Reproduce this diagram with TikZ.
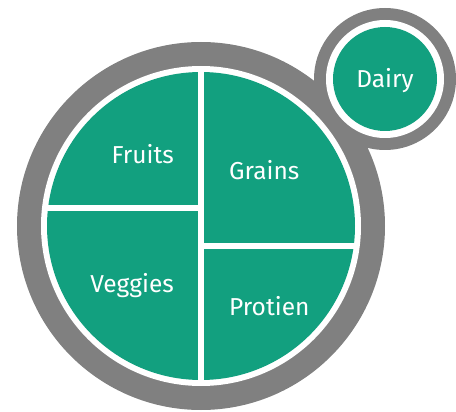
\documentclass[tikz,border=0pt]{standalone}
\usepackage{fontspec}
\setmainfont{Fira Sans}
\definecolor{plategreen}{HTML}{12A07F}
\definecolor{rimgray}{HTML}{808080}
\tikzset{
  disc/.style={circle, inner sep=0pt, fill=#1},
  divider/.style={draw=white, line width=6pt},
  foodtext/.style={text=white, inner sep=0pt, font=\fontsize{24.5}{29}\selectfont}
}

\begin{document}
\begin{tikzpicture}[x=1pt,y=-1pt]
        \useasboundingbox (0,0) rectangle (456,412);

        % Plate
        \node[disc=rimgray, minimum size=368pt] (plateRim) at (201,226) {};
        \node[disc=white, minimum size=320pt] (plateEdge) at (201,226) {};
        \node[disc=plategreen, minimum size=308pt] (plate) at (201,226) {};

        % Dividers
        \coordinate (topEnd) at (201,69);
        \coordinate (bottomEnd) at (201,383);
        \coordinate (leftEnd) at (45,208);
        \coordinate (leftMid) at (201,208);
        \coordinate (rightMid) at (201,246);
        \coordinate (rightEnd) at (357,246);
        \draw[divider] (topEnd) -- (bottomEnd);
        \draw[divider] (leftEnd) -- (leftMid);
        \draw[divider] (rightMid) -- (rightEnd);

        % Cup
        \node[disc=rimgray, minimum size=142pt] (cupRim) at (385,79) {};
        \node[disc=white, minimum size=118pt] (cupEdge) at (385,79) {};
        \node[disc=plategreen, minimum size=104pt] (cup) at (385,79) {};

        % Food groups
        \node[foodtext, anchor=base east] (fruits) at (174,164) {Fruits};
        \node[foodtext, anchor=base west] (grains) at (229,179) {Grains};
        \node[foodtext, anchor=base east] (veggies) at (174,292) {Veggies};
        \node[foodtext, anchor=base west] (protien) at (229,315) {Protien};
        \node[foodtext, anchor=base] (dairy) at (cup |- 0,88) {Dairy};
    \end{tikzpicture}
\end{document}
